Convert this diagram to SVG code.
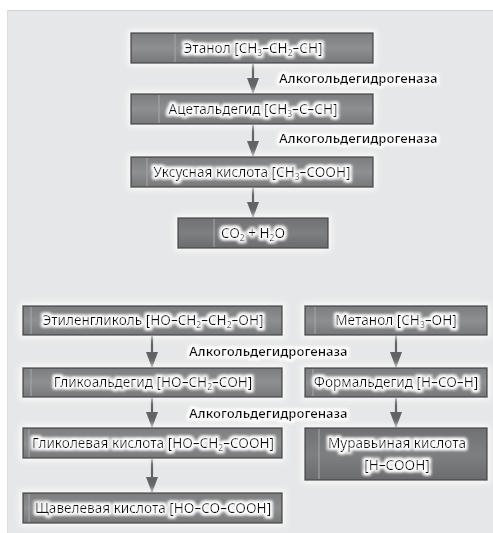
<svg xmlns="http://www.w3.org/2000/svg" width="493" height="533" viewBox="0 0 493 533">
<defs>
<linearGradient id="boxg" x1="0" y1="0" x2="0" y2="1">
<stop offset="0" stop-color="#7c7d7f"/>
<stop offset="0.5" stop-color="#8e8f91"/>
<stop offset="1" stop-color="#77787a"/>
</linearGradient>
<linearGradient id="boxd" x1="0" y1="0" x2="0" y2="1">
<stop offset="0" stop-color="#707173"/>
<stop offset="0.5" stop-color="#7e7f81"/>
<stop offset="1" stop-color="#6b6c6e"/>
</linearGradient>
<filter id="glow" x="-20%" y="-40%" width="140%" height="180%">
<feMorphology in="SourceAlpha" operator="dilate" radius="1.5" result="d"/>
<feGaussianBlur in="d" stdDeviation="1.8" result="b"/>
<feFlood flood-color="#ffffff" flood-opacity="0.95"/>
<feComposite in2="b" operator="in" result="w"/>
<feMerge><feMergeNode in="w"/><feMergeNode in="w"/><feMergeNode in="SourceGraphic"/></feMerge>
</filter>
<filter id="bglow" x="-10%" y="-40%" width="120%" height="180%">
<feMorphology in="SourceAlpha" operator="dilate" radius="2" result="d"/>
<feGaussianBlur in="d" stdDeviation="3" result="b"/>
<feFlood flood-color="#ffffff" flood-opacity="0.9"/>
<feComposite in2="b" operator="in" result="w"/>
<feMerge><feMergeNode in="w"/><feMergeNode in="SourceGraphic"/></feMerge>
</filter>
<marker id="ah" viewBox="0 0 16 12" refX="15" refY="6" markerWidth="16" markerHeight="12" markerUnits="userSpaceOnUse" orient="auto">
<path d="M0,0 L16,6 L0,12 Z" fill="#626365"/>
</marker>
</defs>
<style>
.box{fill:url(#boxg);stroke:#4d4e50;stroke-width:1.5}
.boxd{fill:url(#boxd);stroke:#4d4e50;stroke-width:1.5}
.div{stroke:#a7a8aa;stroke-width:1}
.t{font-family:"Noto Sans","Open Sans",sans-serif;font-size:13.6px;fill:#0a0a0a;text-anchor:middle}
.lab{font-family:"Noto Sans","Open Sans",sans-serif;font-size:13px;font-weight:600;fill:#111}
.s{font-size:8.5px}
.arr line{stroke:#626365;stroke-width:2.2;marker-end:url(#ah)}
</style>
<rect x="0" y="0" width="493" height="533" fill="#ffffff"/>
<rect x="7" y="10" width="486" height="523" fill="#e6e7e8"/>
<line x1="7" y1="10.5" x2="493" y2="10.5" stroke="#d1d3d4" stroke-width="1"/>
<line x1="7.5" y1="10" x2="7.5" y2="533" stroke="#dcdddf" stroke-width="1"/>

<g id="connectors" class="arr">
<line x1="253" y1="64" x2="253" y2="93"/>
<line x1="253" y1="125" x2="253" y2="156"/>
<line x1="253" y1="188" x2="253" y2="217"/>
<line x1="152" y1="336" x2="152" y2="367"/>
<line x1="152" y1="398" x2="152" y2="427"/>
<line x1="152" y1="459" x2="152" y2="492"/>
<line x1="396" y1="335" x2="396" y2="367"/>
<line x1="396" y1="398" x2="396" y2="427"/>
</g>

<g id="labels" filter="url(#glow)">
<text class="lab" x="279" y="83">Алкогольдегидрогеназа</text>
<text class="lab" x="279" y="143">Алкогольдегидрогеназа</text>
<text class="lab" x="189" y="356">Алкогольдегидрогеназа</text>
<text class="lab" x="189" y="418">Алкогольдегидрогеназа</text>
</g>

<g id="ethanol">
<rect class="box" x="131" y="33" width="242" height="30" filter="url(#bglow)"/>
<line class="div" x1="175" y1="34" x2="175" y2="62"/>
<text class="t" x="253" y="53" filter="url(#glow)">Этанол [CH<tspan class="s" dy="3">3</tspan><tspan dy="-3">–CH</tspan><tspan class="s" dy="3">2</tspan><tspan dy="-3">–CH]</tspan></text>
</g>
<g id="acetaldehyde">
<rect class="box" x="131" y="94" width="242" height="30" filter="url(#bglow)"/>
<line class="div" x1="159" y1="95" x2="159" y2="123"/>
<text class="t" x="253" y="114" filter="url(#glow)">Ацетальдегид [CH<tspan class="s" dy="3">3</tspan><tspan dy="-3">–C–CH]</tspan></text>
</g>
<g id="acetic">
<rect class="box" x="131" y="157" width="242" height="30" filter="url(#bglow)"/>
<line class="div" x1="147" y1="158" x2="147" y2="186"/>
<text class="t" x="252" y="177" filter="url(#glow)">Уксусная кислота [CH<tspan class="s" dy="3">3</tspan><tspan dy="-3">–COOH]</tspan></text>
</g>
<g id="co2">
<rect class="boxd" x="178" y="218" width="150" height="30" filter="url(#bglow)"/>
<line class="div" x1="214" y1="219" x2="214" y2="247"/>
<text class="t" x="253" y="238" filter="url(#glow)">CO<tspan class="s" dy="3">2</tspan><tspan dy="-3"> + H</tspan><tspan class="s" dy="3">2</tspan><tspan dy="-3">O</tspan></text>
</g>

<g id="ethyleneglycol">
<rect class="box" x="23" y="306" width="259" height="29" filter="url(#bglow)"/>
<line class="div" x1="31" y1="307" x2="31" y2="334"/>
<text class="t" x="153" y="325" filter="url(#glow)">Этиленгликоль [HO–CH<tspan class="s" dy="3">2</tspan><tspan dy="-3">–CH</tspan><tspan class="s" dy="3">2</tspan><tspan dy="-3">–OH]</tspan></text>
</g>
<g id="methanol">
<rect class="box" x="305" y="306" width="182" height="29" filter="url(#bglow)"/>
<line class="div" x1="315" y1="307" x2="315" y2="334"/>
<text class="t" x="396" y="325" filter="url(#glow)">Метанол [CH<tspan class="s" dy="3">3</tspan><tspan dy="-3">–OH]</tspan></text>
</g>
<g id="glycolaldehyde">
<rect class="box" x="23" y="368" width="259" height="29" filter="url(#bglow)"/>
<line class="div" x1="31" y1="369" x2="31" y2="396"/>
<text class="t" x="153" y="387" filter="url(#glow)">Гликоальдегид [HO–CH<tspan class="s" dy="3">2</tspan><tspan dy="-3">–COH]</tspan></text>
</g>
<g id="formaldehyde">
<rect class="box" x="305" y="368" width="182" height="29" filter="url(#bglow)"/>
<line class="div" x1="313" y1="369" x2="313" y2="396"/>
<text class="t" x="396" y="387" filter="url(#glow)">Формальдегид [H–CO–H]</text>
</g>
<g id="glycolic">
<rect class="box" x="23" y="428" width="259" height="30" filter="url(#bglow)"/>
<line class="div" x1="29" y1="429" x2="29" y2="457"/>
<text class="t" x="153" y="448" filter="url(#glow)">Гликолевая кислота [HO–CH<tspan class="s" dy="3">2</tspan><tspan dy="-3">–COOH]</tspan></text>
</g>
<g id="formic">
<rect class="boxd" x="305" y="428" width="182" height="52" filter="url(#bglow)"/>
<line class="div" x1="319" y1="429" x2="319" y2="479"/>
<text class="t" x="397" y="448" filter="url(#glow)">Муравьиная кислота</text>
<text class="t" x="397" y="470" filter="url(#glow)">[H–COOH]</text>
</g>
<g id="oxalic">
<rect class="box" x="23" y="493" width="259" height="30" filter="url(#bglow)"/>
<line class="div" x1="29" y1="494" x2="29" y2="522"/>
<text class="t" x="153" y="513" filter="url(#glow)">Щавелевая кислота [HO–CO–COOH]</text>
</g>
</svg>
